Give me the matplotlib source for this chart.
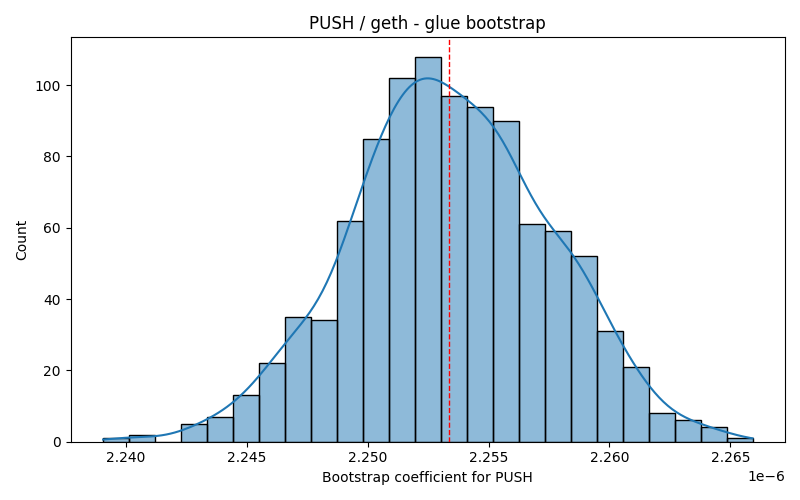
import numpy as np
import matplotlib
matplotlib.use("Agg")
import matplotlib.pyplot as plt

# --- DATA ---
counts = [1, 2, 0, 5, 7, 13, 22, 35, 34, 62, 85, 102, 108,
          97, 94, 90, 61, 59, 52, 31, 21, 8, 6, 4, 1]
data_min = 2.23906e-6
data_max = 2.26592e-6
mean_value = 2.25336e-6

title = "PUSH / geth - glue bootstrap"
xlabel = "Bootstrap coefficient for PUSH"
ylabel = "Count"


def main():
    counts_arr = np.array(counts, dtype=float)
    edges = np.linspace(data_min, data_max, len(counts) + 1)
    centers = (edges[:-1] + edges[1:]) / 2
    width = edges[1] - edges[0]
    n = counts_arr.sum()

    # KDE (gaussian, Scott's rule) from the binned data, scaled to counts
    mu = np.sum(centers * counts_arr) / n
    std = np.sqrt(np.sum(counts_arr * (centers - mu) ** 2) / (n - 1))
    bw = std * n ** (-1 / 5)
    grid = np.linspace(data_min, data_max, 300)
    dens = np.zeros_like(grid)
    for c, w in zip(centers, counts_arr):
        dens += w * np.exp(-0.5 * ((grid - c) / bw) ** 2)
    dens = dens / (n * bw * np.sqrt(2 * np.pi))
    kde_counts = dens * n * width

    fig, ax = plt.subplots(figsize=(8, 5), dpi=100)
    ax.bar(edges[:-1], counts_arr, width=width, align="edge",
           color="#1f77b4", alpha=0.5, edgecolor="none")
    ax.bar(edges[:-1], counts_arr, width=width, align="edge",
           fill=False, edgecolor="black", linewidth=1)
    ax.plot(grid, kde_counts, color="#1f77b4", linewidth=1.5)
    ax.axvline(mean_value, color="red", linestyle="--", linewidth=1)

    ax.set_title(title)
    ax.set_xlabel(xlabel)
    ax.set_ylabel(ylabel)
    ax.set_ylim(0, max(counts) * 1.05)

    fig.tight_layout()
    fig.savefig("out.png")


if __name__ == "__main__":
    main()
